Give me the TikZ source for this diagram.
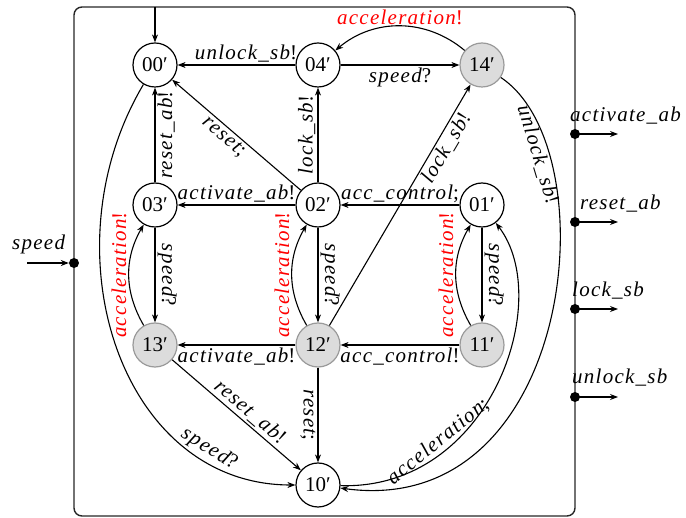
\documentclass[tikz,border=0pt]{standalone}
\usepackage{fontspec}
\setmainfont{Liberation Serif}
\newfontfamily\labfont[LetterSpace=6]{Liberation Serif}
\usetikzlibrary{arrows.meta}
\definecolor{stgray}{HTML}{DCDCDC}
\definecolor{stborder}{HTML}{9A9A9A}
\newcommand{\lbl}[1]{{\itshape #1}}
\begin{document}
\begin{tikzpicture}[x=1pt,y=1pt,
  every node/.style={font=\fontsize{21}{24}\selectfont\labfont},
  st/.style={circle,draw=black,fill=white,line width=1.2pt,minimum size=44pt,inner sep=0pt,font=\fontsize{21}{24}\selectfont\rmfamily},
  stg/.style={st,draw=stborder,fill=stgray},
  tr/.style={draw,line width=1.1pt,-{Stealth[length=8pt,width=6pt]}},
  lb/.style={inner sep=2pt},
  redlab/.style={text=red},
  dot/.style={circle,fill=black,minimum size=10pt,inner sep=0pt},
  port/.style={anchor=base west,inner sep=0pt}]
\useasboundingbox (0,0) rectangle (686,-518);
% frame
\draw[line width=1.4pt,rounded corners=8pt,draw=black!85] (74,-7) rectangle (575,-516);
% states
\node[st]  (00) at (155,-65)  {00′};
\node[st]  (04) at (318,-65)  {04′};
\node[stg] (14) at (482,-65)  {14′};
\node[st]  (03) at (155,-205) {03′};
\node[st]  (02) at (318,-205) {02′};
\node[st]  (01) at (482,-205) {01′};
\node[stg] (13) at (155,-345) {13′};
\node[stg] (12) at (318,-345) {12′};
\node[stg] (11) at (482,-345) {11′};
\node[st]  (10) at (318,-485) {10′};
% initial
\coordinate (init) at (155,-7);
\draw[tr] (init) -- (00);
% top row
\draw[tr] (04) -- node[lb,pos=0.42,above]{\lbl{unlock\_sb}!} (00);
\draw[tr] (04) -- node[lb,below]{\lbl{speed}?} (14);
\draw[tr] (14) to[bend right=40] node[inner sep=1pt,above,redlab]{\lbl{acceleration}!} (04);
% verticals / diagonals upper
\draw[tr] (02) -- node[lb,midway,rotate=90,anchor=south]{\lbl{lock\_sb}!} (04);
\draw[tr] (02) -- node[lb,pos=0.55,sloped,below]{\lbl{reset};} (00);
\draw[tr] (02) -- node[lb,above]{\lbl{activate\_ab}!} (03);
\draw[tr] (01) -- node[lb,above]{\lbl{acc\_control};} (02);
\draw[tr] (03) -- node[lb,midway,rotate=90,anchor=north]{\lbl{reset\_ab}!} (00);
% speed / acceleration pairs
\draw[tr] (03) -- node[lb,midway,rotate=-90,anchor=south]{\lbl{speed}?} (13);
\draw[tr] (13.120) to[bend left=30] node[lb,midway,rotate=90,anchor=south,redlab]{\lbl{acceleration}!} (03.240);
\draw[tr] (02) -- node[lb,midway,rotate=-90,anchor=south]{\lbl{speed}?} (12);
\draw[tr] (12.120) to[bend left=30] node[lb,midway,rotate=90,anchor=south,redlab]{\lbl{acceleration}!} (02.240);
\draw[tr] (01) -- node[lb,midway,rotate=-90,anchor=south]{\lbl{speed}?} (11);
\draw[tr] (11.120) to[bend left=30] node[lb,midway,rotate=90,anchor=south,redlab]{\lbl{acceleration}!} (01.240);
% lower
\draw[tr] (12) -- node[lb,pos=0.76,sloped,below]{\lbl{lock\_sb}!} (14);
\draw[tr] (12) -- node[lb,below]{\lbl{activate\_ab}!} (13);
\draw[tr] (11) -- node[lb,below]{\lbl{acc\_control}!} (12);
\draw[tr] (12) -- node[lb,midway,rotate=-90,anchor=north]{\lbl{reset};} (10);
\draw[tr] (13) -- node[lb,pos=0.55,sloped,above]{\lbl{reset\_ab}!} (10);
% big curves
\draw[tr] (00) .. controls (45,-250) and (120,-485) .. node[lb,pos=0.8,sloped,above]{\lbl{speed}?} (10);
\draw[tr] (14) .. controls (610,-150) and (575,-520) .. node[lb,pos=0.2,sloped,below]{\lbl{unlock\_sb}!} (10);
\draw[tr] (10) .. controls (490,-490) and (555,-300) .. node[lb,pos=0.28,sloped,above]{\lbl{acceleration};} (01);
% input port
\node[dot] (ps) at (74,-263) {};
\coordinate (sin) at (27,-263);
\draw[tr] (sin) -- (ps);
\node[port] (lsp) at (12,-250) {\lbl{speed}};
% output ports
\node[dot] (pa) at (575,-134) {};
\node[dot] (pr) at (575,-222) {};
\node[dot] (pl) at (575,-309) {};
\node[dot] (pu) at (575,-397) {};
\coordinate (pa2) at (618,-134);
\coordinate (pr2) at (618,-222);
\coordinate (pl2) at (618,-309);
\coordinate (pu2) at (618,-397);
\draw[tr] (pa.center) -- (pa2);
\draw[tr] (pr.center) -- (pr2);
\draw[tr] (pl.center) -- (pl2);
\draw[tr] (pu.center) -- (pu2);
\node[port] (la) at (570,-122) {\lbl{activate\_ab}};
\node[port] (lr) at (580,-210) {\lbl{reset\_ab}};
\node[port] (ll) at (572,-297) {\lbl{lock\_sb}};
\node[port] (lu) at (572,-384) {\lbl{unlock\_sb}};
\end{tikzpicture}
\end{document}
